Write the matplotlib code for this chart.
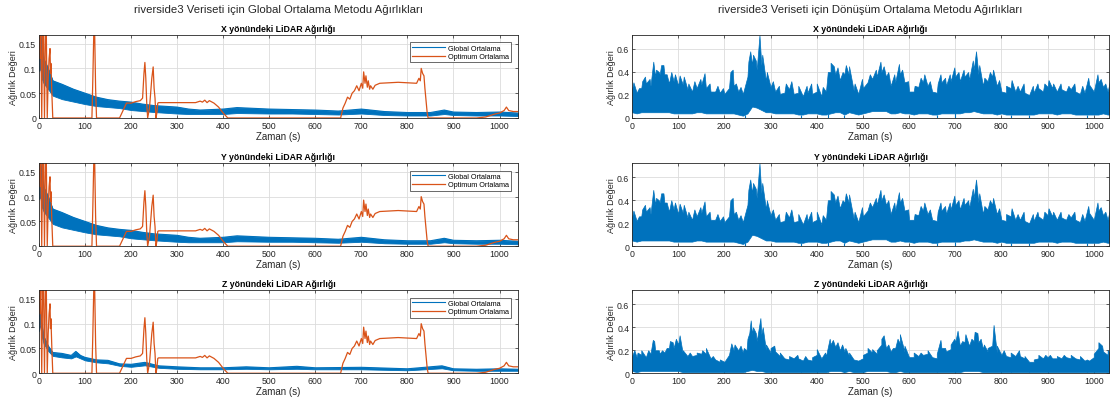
"""Global / Dönüşüm ortalama ağırlıkları (riverside3) - MATLAB tarzı 3x2 panel."""

import matplotlib
matplotlib.use("Agg")
import matplotlib.pyplot as plt
import numpy as np
from matplotlib.ticker import FormatStrFormatter

plt.rcParams["font.family"] = ["Liberation Sans", "DejaVu Sans"]

BLUE = "#0072BD"
ORANGE = "#D95319"
AX_COLOR = "#262626"

# --- sol sütun: Global Ortalama bandı (alt / üst zarf) ---
glob_t = [0, 3, 6, 10, 20, 30, 50, 75, 100, 125, 150, 175, 200, 225, 250,
          300, 325, 350, 400, 430, 500, 550, 600, 650, 700, 750, 800, 850,
          880, 900, 950, 1000, 1040]
glob_xy_lo = [0.095, 0.10, 0.08, 0.07, 0.058, 0.045, 0.038, 0.033, 0.028,
              0.024, 0.022, 0.020, 0.016, 0.014, 0.012, 0.009, 0.008, 0.008,
              0.008, 0.010, 0.009, 0.009, 0.008, 0.007, 0.009, 0.006, 0.005,
              0.005, 0.008, 0.006, 0.005, 0.005, 0.004]
glob_xy_hi = [0.12, 0.17, 0.15, 0.12, 0.10, 0.075, 0.068, 0.058, 0.050,
              0.042, 0.037, 0.034, 0.032, 0.028, 0.025, 0.022, 0.018, 0.016,
              0.018, 0.021, 0.018, 0.017, 0.016, 0.014, 0.018, 0.013, 0.011,
              0.011, 0.016, 0.012, 0.011, 0.012, 0.010]

glob_z_t = [0, 3, 6, 10, 20, 30, 50, 70, 80, 90, 100, 125, 150, 175, 200,
            230, 260, 300, 350, 400, 450, 500, 560, 600, 700, 800, 875, 900,
            950, 1000, 1040]
glob_z_lo = [0.085, 0.10, 0.075, 0.060, 0.045, 0.035, 0.032, 0.030, 0.034,
             0.030, 0.026, 0.022, 0.020, 0.015, 0.013, 0.016, 0.011, 0.009,
             0.008, 0.008, 0.009, 0.008, 0.009, 0.008, 0.008, 0.006, 0.010,
             0.006, 0.005, 0.005, 0.005]
glob_z_hi = [0.11, 0.125, 0.10, 0.075, 0.055, 0.042, 0.040, 0.036, 0.044,
             0.036, 0.032, 0.027, 0.026, 0.019, 0.018, 0.022, 0.015, 0.013,
             0.011, 0.011, 0.013, 0.011, 0.014, 0.011, 0.012, 0.009, 0.015,
             0.009, 0.008, 0.009, 0.008]

# --- sol sütun: Optimum Ortalama (üç eksen için aynı görünüyor) ---
opt_t = [0, 2, 4, 6, 8, 10, 12, 14, 16, 18, 20, 22, 24, 25, 26, 28, 30,
         115, 117, 119, 121, 123, 125, 175, 180, 185, 190, 200, 210, 220,
         225, 228, 230, 232, 234, 236, 240, 245, 248, 250, 252, 254, 256,
         258, 260, 300, 340, 350, 355, 360, 365, 370, 380, 390, 400, 405,
         410, 655, 660, 665, 670, 675, 680, 685, 690, 695, 700, 703, 705,
         708, 710, 713, 715, 718, 720, 725, 730, 735, 740, 760, 780, 800,
         820, 825, 828, 830, 833, 836, 838, 840, 843, 845, 900, 950, 970,
         990, 1000, 1010, 1015, 1020, 1030, 1040]
opt_v = [0.17, 0.12, 0.17, 0.0, 0.17, 0.17, 0.0, 0.17, 0.17, 0.0, 0.08,
         0.12, 0.14, 0.09, 0.11, 0.05, 0.0,
         0.0, 0.08, 0.17, 0.17, 0.06, 0.0, 0.0, 0.01, 0.02, 0.03, 0.03,
         0.033, 0.035, 0.04, 0.09, 0.112, 0.08, 0.03, 0.0, 0.02, 0.08, 0.103,
         0.06, 0.04, 0.0, 0.01, 0.03, 0.031, 0.031, 0.031, 0.034, 0.032,
         0.036, 0.031, 0.035, 0.030, 0.022, 0.010, 0.005, 0.0, 0.0, 0.02,
         0.03, 0.042, 0.038, 0.05, 0.055, 0.065, 0.055, 0.07, 0.06, 0.093,
         0.07, 0.085, 0.062, 0.075, 0.058, 0.065, 0.058, 0.066, 0.068, 0.07,
         0.071, 0.072, 0.071, 0.070, 0.080, 0.075, 0.10, 0.09, 0.085, 0.06,
         0.04, 0.01, 0.0, 0.0, 0.0, 0.002, 0.008, 0.010, 0.015, 0.022, 0.015,
         0.013, 0.013]

# --- sağ sütun: Dönüşüm Ortalama bandı ---
# dn_t ızgarasında üst kenarın çukurları, *_peak_* listelerinde sivri tepeler
dn_t = [0, 10, 20, 30, 40, 50, 60, 70, 80, 90, 100, 110, 120, 130, 140, 150,
        160, 170, 180, 190, 200, 210, 220, 230, 240, 250, 260, 270, 280, 290,
        300, 310, 320, 330, 340, 350, 360, 370, 380, 390, 400, 410, 420, 430,
        440, 450, 460, 470, 480, 490, 500, 510, 520, 530, 540, 550, 560, 570,
        580, 590, 600, 610, 620, 630, 640, 650, 660, 670, 680, 690, 700, 710,
        720, 730, 740, 750, 760, 770, 780, 790, 800, 810, 820, 830, 840, 850,
        860, 870, 880, 890, 900, 910, 920, 930, 940, 950, 960, 970, 980, 990,
        1000, 1010, 1020, 1030, 1040]
dn_xy_hi = [0.25, 0.22, 0.26, 0.30, 0.28, 0.36, 0.38, 0.38, 0.30, 0.32,
            0.28, 0.29, 0.25, 0.23, 0.26, 0.29, 0.26, 0.23, 0.23, 0.22, 0.21,
            0.26, 0.28, 0.23, 0.21, 0.36, 0.46, 0.42, 0.46, 0.32, 0.27, 0.23,
            0.21, 0.22, 0.25, 0.21, 0.22, 0.19, 0.22, 0.21, 0.23, 0.19, 0.23,
            0.40, 0.38, 0.33, 0.38, 0.37, 0.24, 0.21, 0.26, 0.31, 0.34, 0.36,
            0.40, 0.36, 0.28, 0.31, 0.38, 0.31, 0.23, 0.23, 0.27, 0.31, 0.28,
            0.23, 0.22, 0.31, 0.28, 0.32, 0.36, 0.32, 0.36, 0.33, 0.42, 0.38,
            0.28, 0.32, 0.36, 0.28, 0.23, 0.22, 0.26, 0.23, 0.23, 0.22, 0.20,
            0.22, 0.26, 0.23, 0.27, 0.26, 0.23, 0.25, 0.23, 0.25, 0.23, 0.21,
            0.22, 0.29, 0.23, 0.31, 0.27, 0.23, 0.26]
dn_xy_lo = [0.05, 0.04, 0.05, 0.05, 0.05, 0.05, 0.05, 0.05, 0.05, 0.04,
            0.04, 0.04, 0.04, 0.04, 0.05, 0.05, 0.04, 0.04, 0.04, 0.04, 0.04,
            0.04, 0.04, 0.03, 0.02, 0.04, 0.10, 0.09, 0.07, 0.05, 0.05, 0.04,
            0.04, 0.04, 0.04, 0.04, 0.03, 0.03, 0.04, 0.04, 0.04, 0.03, 0.03,
            0.04, 0.05, 0.05, 0.03, 0.05, 0.04, 0.03, 0.04, 0.05, 0.06, 0.06,
            0.06, 0.06, 0.04, 0.04, 0.05, 0.04, 0.04, 0.03, 0.04, 0.04, 0.04,
            0.03, 0.03, 0.04, 0.04, 0.04, 0.04, 0.04, 0.05, 0.05, 0.06, 0.05,
            0.04, 0.04, 0.04, 0.03, 0.04, 0.03, 0.03, 0.03, 0.03, 0.03, 0.03,
            0.03, 0.04, 0.04, 0.04, 0.04, 0.03, 0.04, 0.04, 0.04, 0.03, 0.03,
            0.03, 0.03, 0.03, 0.03, 0.04, 0.03, 0.03]
dn_xy_peak_t = [3, 15, 22, 28, 38, 46, 52, 58, 63, 68, 75, 85, 93, 103, 112,
                122, 135, 148, 157, 168, 185, 197, 213, 218, 225, 235, 252,
                256, 262, 268, 276, 282, 292, 305, 318, 333, 345, 360, 378,
                388, 400, 413, 424, 430, 437, 445, 456, 463, 470, 482, 498,
                515, 528, 538, 545, 555, 568, 578, 585, 598, 612, 625, 633,
                645, 662, 668, 678, 688, 698, 707, 718, 728, 738, 745, 752,
                763, 775, 782, 795, 810, 822, 835, 848, 868, 878, 893, 902,
                912, 928, 945, 958, 975, 988, 1008, 1015, 1025, 1035]
dn_xy_peak_v = [0.31, 0.26, 0.32, 0.36, 0.34, 0.49, 0.42, 0.40, 0.46, 0.46,
                0.38, 0.40, 0.38, 0.37, 0.36, 0.30, 0.32, 0.34, 0.39, 0.30,
                0.28, 0.26, 0.40, 0.42, 0.30, 0.27, 0.49, 0.58, 0.55, 0.50,
                0.72, 0.55, 0.40, 0.32, 0.28, 0.30, 0.32, 0.28, 0.28, 0.30,
                0.30, 0.27, 0.40, 0.48, 0.45, 0.44, 0.40, 0.46, 0.45, 0.30,
                0.34, 0.38, 0.42, 0.49, 0.45, 0.40, 0.38, 0.47, 0.42, 0.32,
                0.28, 0.35, 0.38, 0.32, 0.30, 0.38, 0.35, 0.38, 0.44, 0.40,
                0.42, 0.40, 0.50, 0.58, 0.46, 0.35, 0.40, 0.42, 0.33, 0.28,
                0.33, 0.28, 0.30, 0.28, 0.30, 0.30, 0.33, 0.30, 0.30, 0.28,
                0.30, 0.28, 0.35, 0.38, 0.34, 0.30, 0.32]
dn_xy_dip_t = [245, 365, 425, 460, 660, 700, 820, 860, 985]

dn_z_hi = [0.15, 0.14, 0.16, 0.14, 0.17, 0.20, 0.17, 0.18, 0.22, 0.22,
           0.25, 0.17, 0.15, 0.15, 0.16, 0.17, 0.17, 0.13, 0.12, 0.10, 0.10,
           0.16, 0.20, 0.20, 0.18, 0.30, 0.34, 0.28, 0.34, 0.20, 0.18, 0.19,
           0.15, 0.13, 0.12, 0.13, 0.13, 0.11, 0.12, 0.11, 0.16, 0.13, 0.15,
           0.25, 0.23, 0.20, 0.19, 0.15, 0.12, 0.11, 0.13, 0.18, 0.18, 0.17,
           0.25, 0.22, 0.19, 0.22, 0.26, 0.19, 0.14, 0.14, 0.15, 0.16, 0.17,
           0.14, 0.13, 0.22, 0.19, 0.21, 0.27, 0.24, 0.27, 0.24, 0.28, 0.27,
           0.21, 0.19, 0.24, 0.18, 0.16, 0.15, 0.14, 0.15, 0.15, 0.13, 0.10,
           0.10, 0.13, 0.13, 0.14, 0.13, 0.13, 0.13, 0.14, 0.13, 0.13, 0.12,
           0.11, 0.11, 0.14, 0.22, 0.19, 0.16, 0.16]
dn_z_lo = [0.02, 0.01, 0.02, 0.02, 0.02, 0.02, 0.02, 0.02, 0.02, 0.02,
           0.02, 0.01, 0.01, 0.01, 0.01, 0.01, 0.01, 0.01, 0.01, 0.01, 0.01,
           0.01, 0.01, 0.01, 0.01, 0.02, 0.03, 0.02, 0.02, 0.01, 0.01, 0.01,
           0.01, 0.01, 0.01, 0.01, 0.01, 0.01, 0.01, 0.01, 0.01, 0.01, 0.01,
           0.02, 0.02, 0.02, 0.01, 0.02, 0.01, 0.01, 0.01, 0.02, 0.02, 0.02,
           0.02, 0.02, 0.01, 0.01, 0.02, 0.01, 0.01, 0.01, 0.01, 0.01, 0.01,
           0.01, 0.01, 0.01, 0.01, 0.01, 0.01, 0.01, 0.02, 0.02, 0.02, 0.02,
           0.01, 0.01, 0.01, 0.01, 0.01, 0.01, 0.01, 0.01, 0.01, 0.01, 0.01,
           0.01, 0.01, 0.01, 0.01, 0.01, 0.01, 0.01, 0.01, 0.01, 0.01, 0.01,
           0.01, 0.01, 0.01, 0.01, 0.01, 0.01, 0.01]
dn_z_peak_t = [5, 12, 20, 35, 45, 48, 58, 65, 75, 82, 88, 95, 103, 110, 125,
               140, 152, 160, 175, 190, 215, 222, 235, 242, 248, 254, 257,
               262, 268, 278, 283, 290, 300, 308, 320, 340, 358, 375, 390,
               400, 418, 428, 435, 445, 455, 462, 470, 500, 510, 520, 530,
               540, 545, 555, 565, 575, 580, 590, 610, 625, 640, 660, 668,
               678, 690, 698, 705, 715, 722, 735, 742, 748, 755, 762, 770,
               783, 790, 805, 820, 838, 850, 870, 880, 895, 905, 920, 935,
               950, 970, 985, 1000, 1010, 1018, 1030]
dn_z_peak_v = [0.20, 0.18, 0.20, 0.20, 0.29, 0.28, 0.20, 0.20, 0.22, 0.28,
               0.27, 0.30, 0.33, 0.20, 0.18, 0.18, 0.20, 0.22, 0.15, 0.12,
               0.26, 0.25, 0.24, 0.22, 0.20, 0.35, 0.46, 0.40, 0.35, 0.48,
               0.40, 0.25, 0.22, 0.24, 0.18, 0.15, 0.16, 0.15, 0.14, 0.21,
               0.18, 0.30, 0.29, 0.27, 0.25, 0.22, 0.18, 0.16, 0.22, 0.21,
               0.20, 0.30, 0.33, 0.25, 0.22, 0.30, 0.34, 0.24, 0.18, 0.18,
               0.20, 0.17, 0.29, 0.22, 0.25, 0.30, 0.37, 0.28, 0.34, 0.30,
               0.36, 0.35, 0.30, 0.25, 0.22, 0.42, 0.24, 0.20, 0.18, 0.20,
               0.15, 0.12, 0.16, 0.16, 0.16, 0.15, 0.16, 0.16, 0.15, 0.12,
               0.17, 0.27, 0.24, 0.20]

axis_names = ["X", "Y", "Z"]
left_suptitle = "riverside3 Veriseti için Global Ortalama Metodu Ağırlıkları"
right_suptitle = "riverside3 Veriseti için Dönüşüm Ortalama Metodu Ağırlıkları"
legend_labels = ["Global Ortalama", "Optimum Ortalama"]
x_ticks = list(range(0, 1001, 100))
left_y_ticks = [0, 0.05, 0.1, 0.15]
right_y_ticks = [0, 0.2, 0.4, 0.6]


def style_axes(ax, xlim, ylim, yticks):
    ax.set_xlim(*xlim)
    ax.set_ylim(*ylim)
    ax.set_xticks(x_ticks)
    ax.set_yticks(yticks)
    ax.yaxis.set_major_formatter(FormatStrFormatter("%g"))
    ax.tick_params(direction="in", length=2.5, width=0.5, labelsize=6.3,
                   colors=AX_COLOR, top=True, right=True, pad=2)
    ax.grid(True, color="#dcdcdc", linewidth=0.6)
    ax.set_axisbelow(True)
    for s in ax.spines.values():
        s.set_linewidth(0.6)
        s.set_color(AX_COLOR)
    ax.set_xlabel("Zaman (s)", fontsize=7, color=AX_COLOR, labelpad=1)
    ax.set_ylabel("Ağırlık Değeri", fontsize=6.5, color=AX_COLOR, labelpad=1)


def draw_noisy_band(ax, t, lo, hi, peak_t, peak_v, dip_t):
    # üst kenar: çukurlar ve tepeler zaman sırasına göre birleşir
    all_t = np.array(t + peak_t, dtype=float)
    all_hi = np.array(hi + peak_v)
    order = np.argsort(all_t, kind="stable")
    all_t, all_hi = all_t[order], all_hi[order]
    all_lo = np.interp(all_t, t, lo)
    ax.fill_between(all_t, all_lo, all_hi, color=BLUE, linewidth=0.5,
                    edgecolor=BLUE)
    ax.vlines(dip_t, 0, np.interp(dip_t, t, lo), color=BLUE, linewidth=0.8)


def main() -> None:
    fig = plt.figure(figsize=(11.1, 4.02), dpi=100)
    bottoms = [0.704, 0.385, 0.069]
    height = 0.206

    left_bands = [(glob_t, glob_xy_lo, glob_xy_hi),
                  (glob_t, glob_xy_lo, glob_xy_hi),
                  (glob_z_t, glob_z_lo, glob_z_hi)]
    # X ve Y panelleri resimde aynı görünüyor
    right_bands = [
        (dn_xy_lo, dn_xy_hi, dn_xy_peak_t, dn_xy_peak_v, dn_xy_dip_t),
        (dn_xy_lo, dn_xy_hi, dn_xy_peak_t, dn_xy_peak_v, dn_xy_dip_t),
        (dn_z_lo, dn_z_hi, dn_z_peak_t, dn_z_peak_v, dn_xy_dip_t),
    ]

    for i, name in enumerate(axis_names):
        title = f"{name} yönündeki LiDAR Ağırlığı"

        # sol: Global vs Optimum
        ax = fig.add_axes([0.0351, bottoms[i], 0.4315, height])
        t, lo, hi = left_bands[i]
        ax.fill_between(t, lo, hi, color=BLUE, linewidth=0.6, edgecolor=BLUE)
        ax.plot(t, hi, color=BLUE, lw=0.8, label=legend_labels[0])
        ax.plot(opt_t, opt_v, color=ORANGE, lw=0.9, label=legend_labels[1])
        style_axes(ax, (0, 1040), (0, 0.167), left_y_ticks)
        ax.set_title(title, fontsize=6.3, fontweight="bold", pad=3)
        leg = ax.legend(loc="upper right", fontsize=5.2, frameon=True,
                        fancybox=False, borderaxespad=1.0, handlelength=4.5,
                        borderpad=0.3, labelspacing=0.2, handletextpad=0.4)
        leg.get_frame().set_edgecolor(AX_COLOR)
        leg.get_frame().set_linewidth(0.6)

        # sağ: Dönüşüm ortalama
        ax = fig.add_axes([0.5694, bottoms[i], 0.4297, height])
        lo, hi, pk_t, pk_v, dips = right_bands[i]
        draw_noisy_band(ax, dn_t, lo, hi, pk_t, pk_v, dips)
        style_axes(ax, (0, 1033), (0, 0.72), right_y_ticks)
        ax.set_title(title, fontsize=6.3, fontweight="bold", pad=3)

    fig.text(0.251, 0.975, left_suptitle, ha="center", va="center",
             fontsize=8.2, color=AX_COLOR)
    fig.text(0.784, 0.975, right_suptitle, ha="center", va="center",
             fontsize=8.2, color=AX_COLOR)

    fig.savefig("out.png", dpi=100)
    plt.close(fig)


if __name__ == "__main__":
    main()
